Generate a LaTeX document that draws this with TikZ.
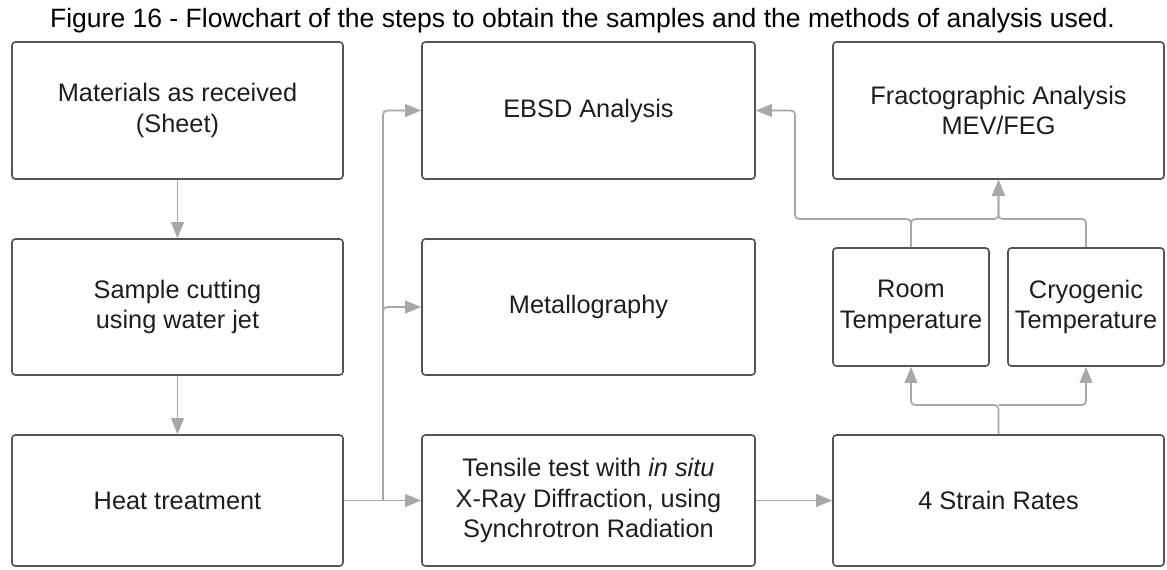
\documentclass[tikz,border=0pt]{standalone}
\usepackage{fontspec}
\setmainfont{Liberation Sans}
\usetikzlibrary{arrows.meta}
\definecolor{boxline}{HTML}{555555}
\definecolor{connline}{HTML}{A8A8A8}
\definecolor{txt}{HTML}{1E1E1E}
\tikzset{
  x=0.75pt, y=-0.75pt,
  box/.style={draw=boxline, line width=1.2pt, rounded corners=2.5pt, inner sep=0pt,
    align=center, text=txt, font=\fontsize{19}{23}\selectfont},
  conn/.style={draw=connline, line width=1.3pt, rounded corners=3pt,
    -{Triangle[length=12pt,width=9.5pt]}},
}
\begin{document}
\begin{tikzpicture}
\useasboundingbox (0,0) rectangle (1167,569);
\node[text=black, font=\fontsize{19.9}{23}\selectfont, anchor=base] (title) at (582.5,27)
  {Figure 16 - Flowchart of the steps to obtain the samples and the methods of analysis used.};
% left column
\node[box, minimum width=331*0.75pt, minimum height=137*0.75pt] (mat) at (177.5,110.5)
  {Materials as received\\(Sheet)};
\node[box, minimum width=331*0.75pt, minimum height=136*0.75pt] (cut) at (177.5,307)
  {Sample cutting\\using water jet};
\node[box, minimum width=331*0.75pt, minimum height=131*0.75pt] (heat) at (177.5,500.5)
  {Heat treatment};
% middle column
\node[box, minimum width=333*0.75pt, minimum height=137*0.75pt] (ebsd) at (588.5,110.5)
  {EBSD Analysis};
\node[box, minimum width=333*0.75pt, minimum height=136*0.75pt] (metal) at (588.5,307)
  {Metallography};
\node[box, minimum width=333*0.75pt, minimum height=131*0.75pt] (tens) at (588.5,500.5)
  {Tensile test with \textit{in situ}\\X-Ray Diffraction, using\\Synchrotron Radiation};
% right column
\node[box, minimum width=331*0.75pt, minimum height=137*0.75pt] (frac) at (998.5,110.5)
  {Fractographic Analysis\\MEV/FEG};
\node[box, minimum width=156*0.75pt, minimum height=118*0.75pt] (room) at (911,307)
  {Room\\Temperature};
\node[box, minimum width=156*0.75pt, minimum height=118*0.75pt] (cryo) at (1086,307)
  {Cryogenic\\Temperature};
\node[box, minimum width=331*0.75pt, minimum height=131*0.75pt] (rates) at (998.5,500.5)
  {4 Strain Rates};
% junction points
\coordinate (br) at (383,500.5);
\coordinate (sr) at (998.5,405);
\coordinate (jt) at (998.5,219);
\coordinate (jl) at (795,219);
% connectors
\draw[conn] (mat.south) -- (cut.north);
\draw[conn] (cut.south) -- (heat.north);
\draw[conn] (heat.east) -- (tens.west);
\draw[conn] (br) |- (ebsd.west);
\draw[conn] (br) |- (metal.west);
\draw[conn] (tens.east) -- (rates.west);
\draw[conn] (rates.north) -- (sr) -| (room.south);
\draw[conn] (sr) -| (cryo.south);
\draw[conn] (room.north) |- (jt) -- (frac.south);
\draw[conn] (cryo.north) |- (jt) -- (frac.south);
\draw[conn] (room.north) |- (jl) |- (ebsd.east);
\end{tikzpicture}
\end{document}
